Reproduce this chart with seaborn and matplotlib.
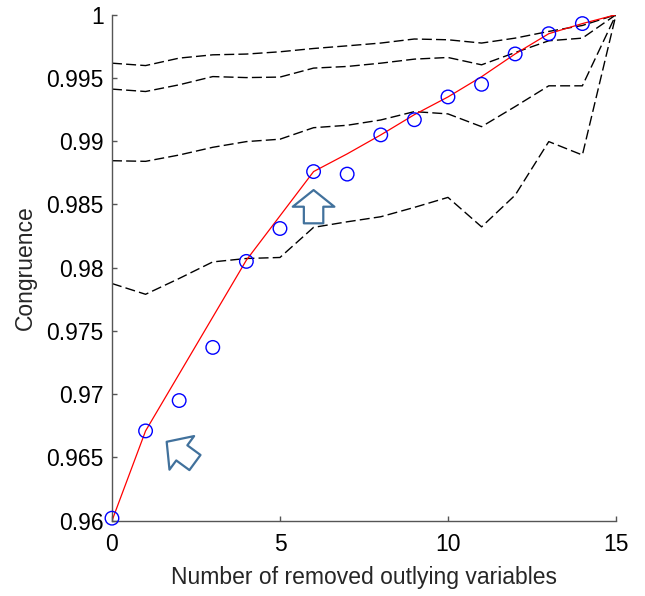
import matplotlib
matplotlib.use("Agg")
import matplotlib.pyplot as plt
import seaborn as sns
import numpy as np
import pandas as pd

# ---------------- data ----------------
n_removed = list(range(16))

observed = [0.9602, 0.9671, 0.9695, 0.9737, 0.9805, 0.9831, 0.9876, 0.9874,
            0.9905, 0.9917, 0.9935, 0.9945, 0.9969, 0.9985, 0.9993]
observed_x = list(range(15))

fitted = [0.9600, 0.9671, 0.9716, 0.9761, 0.9806, 0.9841, 0.9876, 0.9890,
          0.9905, 0.9921, 0.9935, 0.9951, 0.9969, 0.9985, 0.9993, 1.0000]

band_1 = [0.99617, 0.99598, 0.99657, 0.99683, 0.99689, 0.99707, 0.99733, 0.99754,
          0.99776, 0.99808, 0.99802, 0.99776, 0.99815, 0.99868, 0.99915, 1.0]
band_2 = [0.99412, 0.99393, 0.99446, 0.99511, 0.99503, 0.99507, 0.99578, 0.99591,
          0.99617, 0.99649, 0.99662, 0.99604, 0.99701, 0.99794, 0.99815, 1.0]
band_3 = [0.98846, 0.98841, 0.98891, 0.98952, 0.98997, 0.99016, 0.99107, 0.99126,
          0.99168, 0.99234, 0.99216, 0.99115, 0.99274, 0.99438, 0.99438, 1.0]
band_4 = [0.97875, 0.97790, 0.97915, 0.98046, 0.98073, 0.98081, 0.98319, 0.98363,
          0.98403, 0.98477, 0.98556, 0.98323, 0.98574, 0.98997, 0.98891, 1.0]

x_ticks = [0, 5, 10, 15]
y_ticks = [0.96, 0.965, 0.97, 0.975, 0.98, 0.985, 0.99, 0.995, 1.0]
y_tick_labels = ["0.96", "0.965", "0.97", "0.975", "0.98", "0.985", "0.99", "0.995", "1"]

x_label = "Number of removed outlying variables"
y_label = "Congruence"

# annotation arrows: (tip, tail) in data coordinates
arrow_up = ((6.0, 0.98614), (6.0, 0.98351))
arrow_nw = ((1.628, 0.96624), (2.470, 0.96460))

# ---------------- style ----------------
sns.set_style("ticks")
plt.rcParams["font.family"] = ["Liberation Sans", "DejaVu Sans"]
plt.rcParams["xtick.direction"] = "in"
plt.rcParams["ytick.direction"] = "in"

fig = plt.figure(figsize=(6.45, 5.96), dpi=100)
ax = fig.add_axes([0.1736, 0.1263, 0.955 - 0.1736, 0.9753 - 0.1263])

dash = (0, (7.2, 3.0))
for band in (band_1, band_2, band_3, band_4):
    sns.lineplot(x=n_removed, y=band, ax=ax, color="black", lw=1.0,
                 linestyle=dash, legend=False)

sns.lineplot(x=n_removed, y=fitted, ax=ax, color="red", lw=0.9, legend=False)

sns.scatterplot(x=observed_x, y=observed, ax=ax, marker="o", s=95,
                facecolor="none", edgecolor="blue", linewidth=1.0,
                clip_on=False, zorder=5, legend=False)

arrow_color = "#41719c"
ax.annotate("", xy=arrow_up[0], xytext=arrow_up[1],
            arrowprops=dict(arrowstyle="simple,head_length=12,head_width=30,tail_width=14",
                            mutation_scale=1, fc="white", ec=arrow_color, lw=1.6,
                            shrinkA=0, shrinkB=0))
ax.annotate("", xy=arrow_nw[0], xytext=arrow_nw[1],
            arrowprops=dict(arrowstyle="simple,head_length=13.5,head_width=30,tail_width=13.5",
                            mutation_scale=1, fc="white", ec=arrow_color, lw=1.6,
                            shrinkA=0, shrinkB=0))

ax.set_xlim(0, 15)
ax.set_ylim(0.96, 1.0)
ax.set_xticks(x_ticks)
ax.set_xticklabels([str(t) for t in x_ticks])
ax.set_yticks(y_ticks)
ax.set_yticklabels(y_tick_labels)

for side in ("top", "right"):
    ax.spines[side].set_visible(False)
for side in ("left", "bottom"):
    ax.spines[side].set_color("#555555")
    ax.spines[side].set_linewidth(1.0)

ax.tick_params(axis="both", colors="#555555", labelcolor="black",
               labelsize=16.5, length=3.5, width=1.0)
ax.tick_params(axis="x", pad=9)
ax.tick_params(axis="y", pad=6)

ax.set_xlabel(x_label, fontsize=16.5, labelpad=7)
ax.set_ylabel(y_label, fontsize=16.5, labelpad=7)

fig.savefig("out.png", dpi=100)
